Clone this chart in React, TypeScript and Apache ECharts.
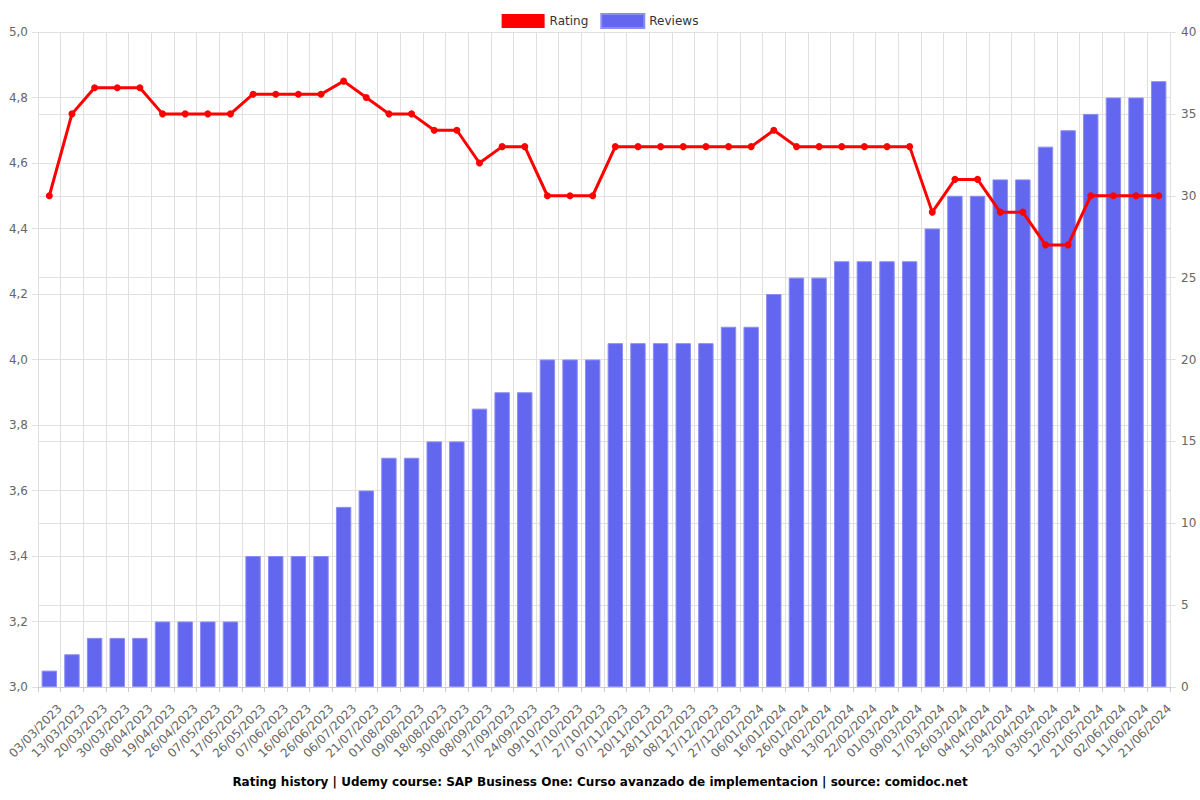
import React, { useEffect, useRef } from "react";
import * as echarts from "echarts";

const categories = [
  "03/03/2023","13/03/2023","20/03/2023","30/03/2023","08/04/2023","19/04/2023","26/04/2023","07/05/2023","17/05/2023","26/05/2023",
  "07/06/2023","16/06/2023","26/06/2023","06/07/2023","21/07/2023","01/08/2023","09/08/2023","18/08/2023","30/08/2023","08/09/2023",
  "17/09/2023","24/09/2023","09/10/2023","17/10/2023","27/10/2023","07/11/2023","20/11/2023","28/11/2023","08/12/2023","17/12/2023",
  "27/12/2023","06/01/2024","16/01/2024","26/01/2024","04/02/2024","13/02/2024","22/02/2024","01/03/2024","09/03/2024","17/03/2024",
  "26/03/2024","04/04/2024","15/04/2024","23/04/2024","03/05/2024","12/05/2024","21/05/2024","02/06/2024","11/06/2024","21/06/2024",
];

const reviews = [
  1, 2, 3, 3, 3, 4, 4, 4, 4, 8,
  8, 8, 8, 11, 12, 14, 14, 15, 15, 17,
  18, 18, 20, 20, 20, 21, 21, 21, 21, 21,
  22, 22, 24, 25, 25, 26, 26, 26, 26, 28,
  30, 30, 31, 31, 33, 34, 35, 36, 36, 37,
];

const rating = [
  4.5, 4.75, 4.83, 4.83, 4.83, 4.75, 4.75, 4.75, 4.75, 4.81,
  4.81, 4.81, 4.81, 4.85, 4.8, 4.75, 4.75, 4.7, 4.7, 4.6,
  4.65, 4.65, 4.5, 4.5, 4.5, 4.65, 4.65, 4.65, 4.65, 4.65,
  4.65, 4.65, 4.7, 4.65, 4.65, 4.65, 4.65, 4.65, 4.65, 4.45,
  4.55, 4.55, 4.45, 4.45, 4.35, 4.35, 4.5, 4.5, 4.5, 4.5,
];

const titleText =
  "Rating history | Udemy course: SAP Business One: Curso avanzado de implementacion | source: comidoc.net";

export default function App() {
  const ref = useRef<HTMLDivElement>(null);
  useEffect(() => {
    if (!ref.current) return;
    const chart = echarts.init(ref.current, undefined, { renderer: "svg" });
    const font = "DejaVu Sans, sans-serif";
    const tick = { show: true, length: 6, lineStyle: { color: "#e0e0e0" } };
    chart.setOption({
      animation: false,
      textStyle: { fontFamily: font },
      title: {
        text: titleText,
        left: "center",
        bottom: 7,
        textStyle: { fontSize: 12, fontWeight: "bold", color: "#000", fontFamily: font },
      },
      legend: {
        top: 8,
        left: "center",
        itemWidth: 43,
        itemHeight: 14,
        itemGap: 12,
        textStyle: { fontSize: 12, color: "#333", fontFamily: font },
        data: [
          { name: "Rating", icon: "rect", itemStyle: { color: "#ff0000" } },
          { name: "Reviews", icon: "rect", itemStyle: { color: "#6366ee" } },
        ],
      },
      grid: { left: 38, right: 30, top: 32, bottom: 113, containLabel: false, outerBoundsMode: "none" },
      xAxis: {
        type: "category",
        data: categories,
        boundaryGap: true,
        axisLine: { lineStyle: { color: "#ccc" } },
        axisTick: { show: true, alignWithLabel: false, lineStyle: { color: "#ccc" } },
        splitLine: { show: true, lineStyle: { color: "#e0e0e0" } },
        axisLabel: {
          rotate: 45,
          interval: 0,
          fontSize: 12,
          color: "#666",
          fontFamily: font,
          margin: 9,
          align: "right",
          verticalAlign: "top",
          lineHeight: 30,
        },
      },
      yAxis: [
        {
          type: "value",
          min: 3,
          max: 5,
          interval: 0.2,
          axisLine: { show: false },
          axisTick: tick,
          splitLine: { lineStyle: { color: "#e0e0e0" } },
          axisLabel: {
            fontSize: 12,
            color: "#666",
            fontFamily: font,
            margin: 10,
            formatter: (v: number) => v.toFixed(1).replace(".", ","),
          },
        },
        {
          type: "value",
          min: 0,
          max: 40,
          interval: 5,
          axisLine: { show: false },
          axisTick: tick,
          splitLine: { lineStyle: { color: "#e0e0e0" } },
          axisLabel: { fontSize: 12, color: "#666", fontFamily: font, margin: 11 },
        },
      ],
      series: [
        {
          name: "Rating",
          type: "line",
          yAxisIndex: 0,
          data: rating,
          z: 3,
          symbol: "circle",
          symbolSize: 7,
          lineStyle: { color: "#ff0000", width: 3 },
          itemStyle: { color: "#ff0000" },
        },
        {
          name: "Reviews",
          type: "bar",
          yAxisIndex: 1,
          data: reviews,
          barCategoryGap: "32%",
          itemStyle: { color: "#6366ee", borderColor: "#8a8df2", borderWidth: 1 },
        },
      ],
    });
    return () => chart.dispose();
  }, []);
  return (
    <div
      ref={ref}
      style={{ position: "fixed", left: 0, top: 0, width: 1200, height: 800, background: "#fff" }}
    />
  );
}
